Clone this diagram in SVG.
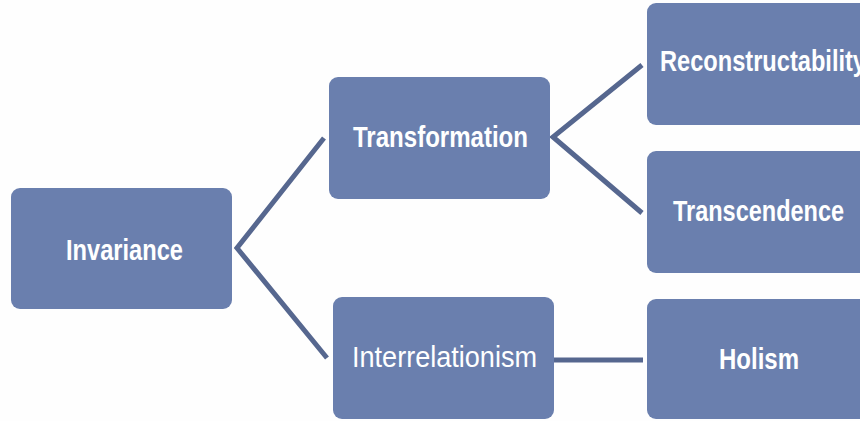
<svg xmlns="http://www.w3.org/2000/svg" width="860" height="421" viewBox="0 0 860 421">
  <style>
    .box { fill: #6a7fae; }
    .lbl { fill: #ffffff; font-family: "Liberation Sans", Arial, sans-serif; font-size: 30px; font-weight: bold; }
    .reg { font-weight: normal; font-size: 29px; }
    .link { fill: none; stroke: #56678f; stroke-width: 5; stroke-linejoin: miter; stroke-linecap: butt; }
  </style>
  <rect width="860" height="421" fill="#fefefe"/>

  <g id="connectors">
    <polyline class="link" points="324,138 237,248 327,358"/>
    <polyline class="link" points="642,65 553,137 642,213"/>
    <line class="link" x1="554" y1="360" x2="643" y2="360"/>
  </g>

  <g id="invariance">
    <rect class="box" x="11" y="188" width="221" height="121" rx="9"/>
    <text class="lbl" x="66" y="260" textLength="117" lengthAdjust="spacingAndGlyphs">Invariance</text>
  </g>
  <g id="transformation">
    <rect class="box" x="329" y="77" width="221" height="122" rx="9"/>
    <text class="lbl" x="353" y="147" textLength="175" lengthAdjust="spacingAndGlyphs">Transformation</text>
  </g>
  <g id="interrelationism">
    <rect class="box" x="333" y="297" width="221" height="122" rx="9"/>
    <text class="lbl reg" x="352" y="367" textLength="185" lengthAdjust="spacingAndGlyphs">Interrelationism</text>
  </g>
  <g id="reconstructability">
    <rect class="box" x="647" y="3" width="230" height="122" rx="9"/>
    <text class="lbl" x="660" y="71" textLength="206" lengthAdjust="spacingAndGlyphs">Reconstructability</text>
  </g>
  <g id="transcendence">
    <rect class="box" x="647" y="151" width="230" height="122" rx="9"/>
    <text class="lbl" x="673" y="221" textLength="171" lengthAdjust="spacingAndGlyphs">Transcendence</text>
  </g>
  <g id="holism">
    <rect class="box" x="647" y="299" width="230" height="120" rx="9"/>
    <text class="lbl" x="719" y="369" textLength="80" lengthAdjust="spacingAndGlyphs">Holism</text>
  </g>
</svg>
